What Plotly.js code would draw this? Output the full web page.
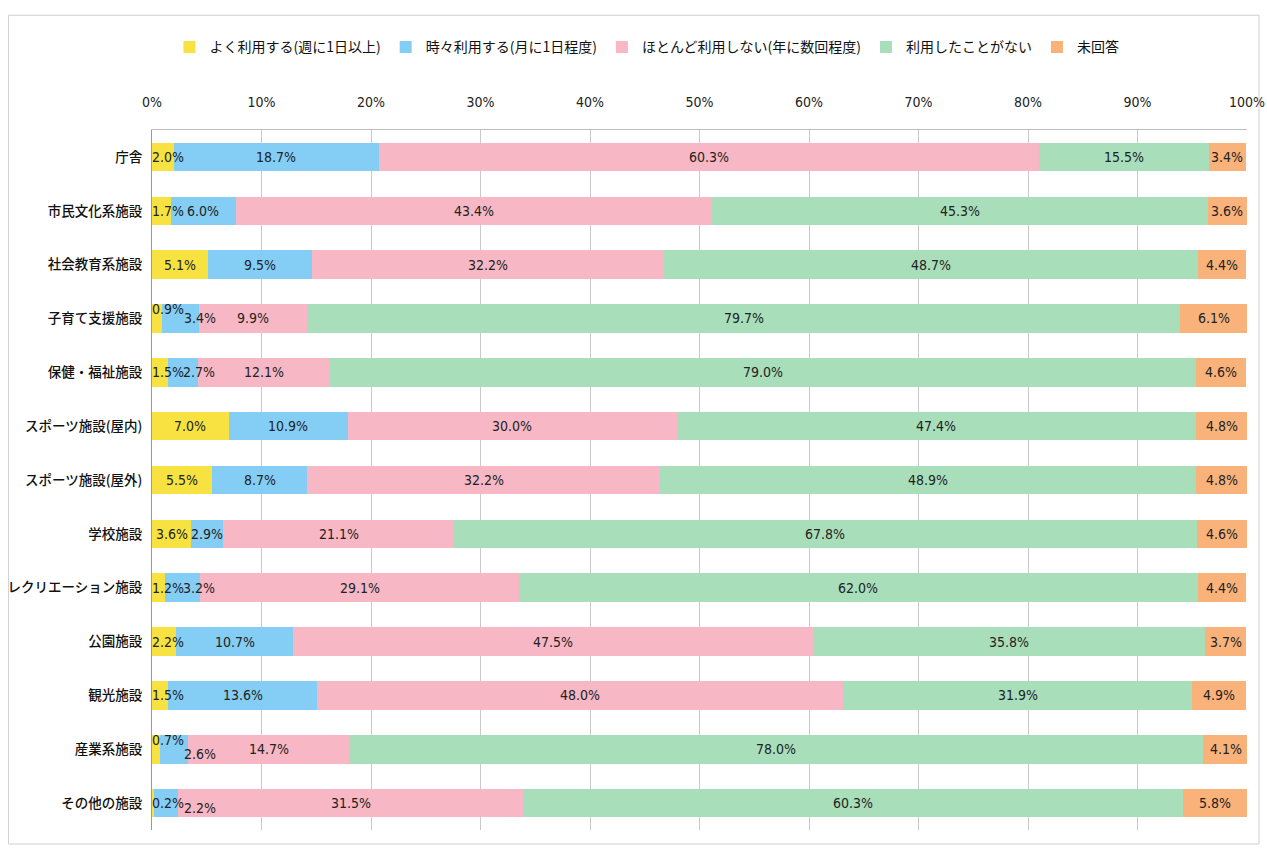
<!DOCTYPE html>
<html>
<head>
<meta charset="utf-8">
<script src="https://cdn.plot.ly/plotly-3.0.1.min.js"></script>
<style>
html,body{margin:0;padding:0;background:#fff;}
#chart{width:1267px;height:849px;}
</style>
</head>
<body>
<div id="chart"></div>
<script>
const categories = ["庁舎","市民文化系施設","社会教育系施設","子育て支援施設","保健・福祉施設","スポーツ施設(屋内)","スポーツ施設(屋外)","学校施設","レクリエーション施設","公園施設","観光施設","産業系施設","その他の施設"];
const seriesNames = ["よく利用する(週に1日以上)","時々利用する(月に1日程度)","ほとんど利用しない(年に数回程度)","利用したことがない","未回答"];
const often    = [2.0, 1.7, 5.1, 0.9, 1.5, 7.0, 5.5, 3.6, 1.2, 2.2, 1.5, 0.7, 0.2];
const sometimes= [18.7, 6.0, 9.5, 3.4, 2.7, 10.9, 8.7, 2.9, 3.2, 10.7, 13.6, 2.6, 2.2];
const rarely   = [60.3, 43.4, 32.2, 9.9, 12.1, 30.0, 32.2, 21.1, 29.1, 47.5, 48.0, 14.7, 31.5];
const never    = [15.5, 45.3, 48.7, 79.7, 79.0, 47.4, 48.9, 67.8, 62.0, 35.8, 31.9, 78.0, 60.3];
const noAnswer = [3.4, 3.6, 4.4, 6.1, 4.6, 4.8, 4.8, 4.6, 4.4, 3.7, 4.9, 4.1, 5.8];
const tickVals = [0,10,20,30,40,50,60,70,80,90,100];
const tickText = ["0%","10%","20%","30%","40%","50%","60%","70%","80%","90%","100%"];

const colors = ["#F7E241","#84CDF5","#F8B7C4","#A9DEBB","#F8B27A"];
const allSeries = [often, sometimes, rarely, never, noAnswer];
const numFont = {family:"'Liberation Sans Narrow','DejaVu Sans Condensed','Noto Sans CJK JP',sans-serif", size:14, color:"#222"};

const traces = allSeries.map((vals,i)=>({
  type:'bar', orientation:'h', name:seriesNames[i],
  y:categories, x:vals,
  marker:{color:colors[i], line:{width:0}},
  hoverinfo:'x+name'
}));

// value labels, positioned from the data (segment midpoints)
const annotations = [];
categories.forEach((cat,r)=>{
  let start = 0;
  allSeries.forEach((vals,i)=>{
    const v = vals[r];
    const mid = start + v/2;
    const ann = {x:mid, y:cat, xref:'x', yref:'y', text:v.toFixed(1)+'%', showarrow:false,
      font:numFont, xanchor:'center', yanchor:'middle'};
    if (i===0 && v < 2.5) { ann.x = 0; ann.xanchor = 'left'; ann.xshift = -2; if (v < 1) ann.yshift = (v < 0.5 ? 0 : 9); }
    if (i===1 && v < 4 && often[r] < 2.5) { ann.x = 0; ann.xanchor = 'left'; ann.xshift = (often[r] < 1 ? 30 : 29); if (often[r] < 1 && r > 10) ann.yshift = -5; }
    annotations.push(ann);
    start += v;
  });
});

const layout = {
  width:1267, height:849,
  barmode:'stack', bargap:0.47,
  paper_bgcolor:'#fff', plot_bgcolor:'#fff',
  margin:{l:152, r:20, t:130, b:19},
  font:{family:"'Noto Sans CJK JP',sans-serif", color:"#222"},
  xaxis:{
    side:'top', range:[0,100], tickvals:tickVals, ticktext:tickText,
    showgrid:true, gridcolor:'#c9c9c9', gridwidth:1,
    showline:true, linecolor:'#bfbfbf', linewidth:1,
    ticks:'', zeroline:false, ticklabelstandoff:16,
    tickfont:{family:"'Liberation Sans Narrow','DejaVu Sans Condensed','Noto Sans CJK JP',sans-serif", size:14, color:"#222"},
    fixedrange:true
  },
  yaxis:{
    autorange:'reversed', showgrid:false, showline:true, linecolor:'#9a9a9a', linewidth:1,
    ticks:'', ticklabelstandoff:6,
    tickfont:{family:"'Noto Sans CJK JP',sans-serif", size:13.5, color:"#111", weight:500},
    fixedrange:true
  },
  legend:{
    orientation:'h', traceorder:'normal', x:0.452, xanchor:'center', y:1.118, yanchor:'middle',
    font:{family:"'Noto Sans CJK JP',sans-serif", size:14, color:"#111"},
    itemwidth:30, tracegroupgap:0
  },
  annotations: annotations,
  shapes:[{type:'rect', xref:'paper', yref:'paper', x0:-0.131, x1:1.011, y0:-0.02, y1:1.164,
    line:{color:'#d0d0d0', width:1}, layer:'below'}],
  showlegend:true
};

Plotly.newPlot('chart', traces, layout, {displayModeBar:false});
</script>
</body>
</html>
